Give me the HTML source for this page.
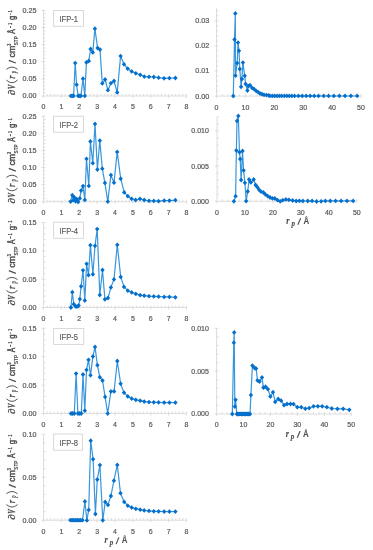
<!DOCTYPE html>
<html><head><meta charset="utf-8"><title>PSD</title>
<style>html,body{margin:0;padding:0;background:#fff;width:373px;height:550px;overflow:hidden}svg{display:block;filter:blur(0.35px)}</style></head><body>
<svg width="373" height="550" viewBox="0 0 373 550" font-family="Liberation Sans" font-size="7.80"><rect width="373" height="550" fill="#fff"/>
<g stroke="#d9d9d9" stroke-width="0.9" fill="none"><line x1="43.50" y1="10.40" x2="43.50" y2="98.00"/><line x1="41.50" y1="96.00" x2="186.50" y2="96.00"/><line x1="43.50" y1="92.58" x2="45.50" y2="92.58"/><line x1="43.50" y1="89.15" x2="45.50" y2="89.15"/><line x1="43.50" y1="85.73" x2="45.50" y2="85.73"/><line x1="43.50" y1="82.30" x2="45.50" y2="82.30"/><line x1="41.50" y1="78.88" x2="45.50" y2="78.88"/><line x1="43.50" y1="75.46" x2="45.50" y2="75.46"/><line x1="43.50" y1="72.03" x2="45.50" y2="72.03"/><line x1="43.50" y1="68.61" x2="45.50" y2="68.61"/><line x1="43.50" y1="65.18" x2="45.50" y2="65.18"/><line x1="41.50" y1="61.76" x2="45.50" y2="61.76"/><line x1="43.50" y1="58.34" x2="45.50" y2="58.34"/><line x1="43.50" y1="54.91" x2="45.50" y2="54.91"/><line x1="43.50" y1="51.49" x2="45.50" y2="51.49"/><line x1="43.50" y1="48.06" x2="45.50" y2="48.06"/><line x1="41.50" y1="44.64" x2="45.50" y2="44.64"/><line x1="43.50" y1="41.22" x2="45.50" y2="41.22"/><line x1="43.50" y1="37.79" x2="45.50" y2="37.79"/><line x1="43.50" y1="34.37" x2="45.50" y2="34.37"/><line x1="43.50" y1="30.94" x2="45.50" y2="30.94"/><line x1="41.50" y1="27.52" x2="45.50" y2="27.52"/><line x1="43.50" y1="24.10" x2="45.50" y2="24.10"/><line x1="43.50" y1="20.67" x2="45.50" y2="20.67"/><line x1="43.50" y1="17.25" x2="45.50" y2="17.25"/><line x1="43.50" y1="13.82" x2="45.50" y2="13.82"/><line x1="41.50" y1="10.40" x2="45.50" y2="10.40"/><line x1="47.08" y1="94.00" x2="47.08" y2="96.00"/><line x1="50.65" y1="94.00" x2="50.65" y2="96.00"/><line x1="54.23" y1="94.00" x2="54.23" y2="96.00"/><line x1="57.80" y1="94.00" x2="57.80" y2="96.00"/><line x1="61.38" y1="94.00" x2="61.38" y2="98.00"/><line x1="64.95" y1="94.00" x2="64.95" y2="96.00"/><line x1="68.53" y1="94.00" x2="68.53" y2="96.00"/><line x1="72.10" y1="94.00" x2="72.10" y2="96.00"/><line x1="75.68" y1="94.00" x2="75.68" y2="96.00"/><line x1="79.25" y1="94.00" x2="79.25" y2="98.00"/><line x1="82.83" y1="94.00" x2="82.83" y2="96.00"/><line x1="86.40" y1="94.00" x2="86.40" y2="96.00"/><line x1="89.97" y1="94.00" x2="89.97" y2="96.00"/><line x1="93.55" y1="94.00" x2="93.55" y2="96.00"/><line x1="97.12" y1="94.00" x2="97.12" y2="98.00"/><line x1="100.70" y1="94.00" x2="100.70" y2="96.00"/><line x1="104.28" y1="94.00" x2="104.28" y2="96.00"/><line x1="107.85" y1="94.00" x2="107.85" y2="96.00"/><line x1="111.43" y1="94.00" x2="111.43" y2="96.00"/><line x1="115.00" y1="94.00" x2="115.00" y2="98.00"/><line x1="118.58" y1="94.00" x2="118.58" y2="96.00"/><line x1="122.15" y1="94.00" x2="122.15" y2="96.00"/><line x1="125.73" y1="94.00" x2="125.73" y2="96.00"/><line x1="129.30" y1="94.00" x2="129.30" y2="96.00"/><line x1="132.88" y1="94.00" x2="132.88" y2="98.00"/><line x1="136.45" y1="94.00" x2="136.45" y2="96.00"/><line x1="140.03" y1="94.00" x2="140.03" y2="96.00"/><line x1="143.60" y1="94.00" x2="143.60" y2="96.00"/><line x1="147.18" y1="94.00" x2="147.18" y2="96.00"/><line x1="150.75" y1="94.00" x2="150.75" y2="98.00"/><line x1="154.32" y1="94.00" x2="154.32" y2="96.00"/><line x1="157.90" y1="94.00" x2="157.90" y2="96.00"/><line x1="161.48" y1="94.00" x2="161.48" y2="96.00"/><line x1="165.05" y1="94.00" x2="165.05" y2="96.00"/><line x1="168.62" y1="94.00" x2="168.62" y2="98.00"/><line x1="172.20" y1="94.00" x2="172.20" y2="96.00"/><line x1="175.78" y1="94.00" x2="175.78" y2="96.00"/><line x1="179.35" y1="94.00" x2="179.35" y2="96.00"/><line x1="182.93" y1="94.00" x2="182.93" y2="96.00"/><line x1="186.50" y1="94.00" x2="186.50" y2="98.00"/></g>
<g fill="#595959" stroke="#595959" stroke-width="0.22"><text x="36.40" y="98.42" text-anchor="end" textLength="14.00" lengthAdjust="spacingAndGlyphs">0.00</text><text x="36.40" y="81.30" text-anchor="end" textLength="14.00" lengthAdjust="spacingAndGlyphs">0.05</text><text x="36.40" y="64.18" text-anchor="end" textLength="14.00" lengthAdjust="spacingAndGlyphs">0.10</text><text x="36.40" y="47.06" text-anchor="end" textLength="14.00" lengthAdjust="spacingAndGlyphs">0.15</text><text x="36.40" y="29.94" text-anchor="end" textLength="14.00" lengthAdjust="spacingAndGlyphs">0.20</text><text x="36.40" y="12.82" text-anchor="end" textLength="14.00" lengthAdjust="spacingAndGlyphs">0.25</text><text x="43.50" y="109.45" text-anchor="middle" textLength="3.90" lengthAdjust="spacingAndGlyphs">0</text><text x="61.38" y="109.45" text-anchor="middle" textLength="3.90" lengthAdjust="spacingAndGlyphs">1</text><text x="79.25" y="109.45" text-anchor="middle" textLength="3.90" lengthAdjust="spacingAndGlyphs">2</text><text x="97.12" y="109.45" text-anchor="middle" textLength="3.90" lengthAdjust="spacingAndGlyphs">3</text><text x="115.00" y="109.45" text-anchor="middle" textLength="3.90" lengthAdjust="spacingAndGlyphs">4</text><text x="132.88" y="109.45" text-anchor="middle" textLength="3.90" lengthAdjust="spacingAndGlyphs">5</text><text x="150.75" y="109.45" text-anchor="middle" textLength="3.90" lengthAdjust="spacingAndGlyphs">6</text><text x="168.62" y="109.45" text-anchor="middle" textLength="3.90" lengthAdjust="spacingAndGlyphs">7</text><text x="186.50" y="109.45" text-anchor="middle" textLength="3.90" lengthAdjust="spacingAndGlyphs">8</text></g>
<rect x="53.60" y="10.50" width="29.90" height="15.80" fill="#fff" stroke="#d4d4d4" stroke-width="0.9"/>
<text x="68.80" y="22.10" text-anchor="middle" font-size="9.3" fill="#595959" stroke="#595959" stroke-width="0.15" textLength="18.6" lengthAdjust="spacingAndGlyphs">IFP-1</text>
<g transform="rotate(-90)" fill="#4d4d4d" stroke="#4d4d4d"><text stroke-width="0.30" x="-95.32" y="14.80" font-family="Liberation Serif" font-size="10.00" font-weight="bold" font-style="italic" textLength="5.53" lengthAdjust="spacingAndGlyphs">∂</text><text stroke-width="0.30" x="-89.34" y="14.80" font-family="Liberation Serif" font-size="10.00" font-weight="bold" font-style="italic" textLength="4.44" lengthAdjust="spacingAndGlyphs">V</text><text stroke-width="0.30" x="-78.81" y="14.80" font-family="Liberation Serif" font-size="10.00" font-style="italic" textLength="3.44" lengthAdjust="spacingAndGlyphs">r</text><text stroke-width="0.10" x="-73.31" y="16.10" font-family="Liberation Serif" font-size="7.60" font-weight="bold" font-style="italic" textLength="2.40" lengthAdjust="spacingAndGlyphs">p</text><text stroke-width="0.45" x="-57.52" y="15.10" font-family="Liberation Sans" font-size="9.50" textLength="11.75" lengthAdjust="spacingAndGlyphs">cm</text><text stroke-width="0.20" x="-45.83" y="11.00" font-family="Liberation Sans" font-size="4.90" font-weight="bold" textLength="2.01" lengthAdjust="spacingAndGlyphs">3</text><text stroke-width="0.10" x="-45.28" y="18.20" font-family="Liberation Sans" font-size="5.50" font-weight="bold" textLength="8.99" lengthAdjust="spacingAndGlyphs">STP</text><text stroke-width="0.45" x="-33.66" y="15.10" font-family="Liberation Sans" font-size="9.30" textLength="4.43" lengthAdjust="spacingAndGlyphs">Å</text><text stroke-width="0.30" x="-28.08" y="12.20" font-family="Liberation Sans" font-size="6.00" font-weight="bold" textLength="1.97" lengthAdjust="spacingAndGlyphs">-</text><text stroke-width="0.30" x="-24.85" y="12.20" font-family="Liberation Sans" font-size="6.00" font-weight="bold" textLength="1.79" lengthAdjust="spacingAndGlyphs">1</text><text stroke-width="0.45" x="-19.97" y="14.70" font-family="Liberation Sans" font-size="9.30" textLength="4.20" lengthAdjust="spacingAndGlyphs">g</text><text stroke-width="0.30" x="-14.87" y="12.20" font-family="Liberation Sans" font-size="6.00" font-weight="bold" textLength="1.05" lengthAdjust="spacingAndGlyphs">-</text><text stroke-width="0.30" x="-12.15" y="12.20" font-family="Liberation Sans" font-size="6.00" font-weight="bold" textLength="1.79" lengthAdjust="spacingAndGlyphs">1</text></g>
<path d="M6.4 80.20Q12 85.20 17.5 80.20M6.4 69.30Q12 64.90 17.5 69.30" fill="none" stroke="#4d4d4d" stroke-width="0.95"/>
<path d="M15.8 63.00L8.8 60.30" stroke="#4d4d4d" stroke-width="1.3"/>
<polyline points="70.9,95.9 72.3,95.9 73.6,95.9 75.2,63.1 76.6,84.7 78.1,95.9 79.5,95.9 80.9,95.9 83.0,78.7 84.8,95.9 86.4,62.4 88.8,61.0 90.6,49.0 92.8,52.4 94.9,28.7 97.6,48.0 100.0,49.6 102.3,83.4 105.1,79.5 107.9,90.2 110.9,83.2 114.0,81.0 117.2,92.4 120.6,56.1 124.0,64.3 127.7,68.7 131.7,71.4 135.8,73.3 140.2,74.8 144.3,76.6 149.0,76.8 153.8,77.0 158.6,77.7 164.1,78.3 169.4,78.2 175.4,78.0" fill="none" stroke="#3896dc" stroke-width="1.2" stroke-linejoin="round"/>
<path d="M70.9 93.5l2.21 2.40l-2.21 2.40l-2.21 -2.40zM72.3 93.5l2.21 2.40l-2.21 2.40l-2.21 -2.40zM73.6 93.5l2.21 2.40l-2.21 2.40l-2.21 -2.40zM75.2 60.7l2.21 2.40l-2.21 2.40l-2.21 -2.40zM76.6 82.3l2.21 2.40l-2.21 2.40l-2.21 -2.40zM78.1 93.5l2.21 2.40l-2.21 2.40l-2.21 -2.40zM79.5 93.5l2.21 2.40l-2.21 2.40l-2.21 -2.40zM80.9 93.5l2.21 2.40l-2.21 2.40l-2.21 -2.40zM83.0 76.3l2.21 2.40l-2.21 2.40l-2.21 -2.40zM84.8 93.5l2.21 2.40l-2.21 2.40l-2.21 -2.40zM86.4 60.0l2.21 2.40l-2.21 2.40l-2.21 -2.40zM88.8 58.6l2.21 2.40l-2.21 2.40l-2.21 -2.40zM90.6 46.6l2.21 2.40l-2.21 2.40l-2.21 -2.40zM92.8 50.0l2.21 2.40l-2.21 2.40l-2.21 -2.40zM94.9 26.3l2.21 2.40l-2.21 2.40l-2.21 -2.40zM97.6 45.6l2.21 2.40l-2.21 2.40l-2.21 -2.40zM100.0 47.2l2.21 2.40l-2.21 2.40l-2.21 -2.40zM102.3 81.0l2.21 2.40l-2.21 2.40l-2.21 -2.40zM105.1 77.1l2.21 2.40l-2.21 2.40l-2.21 -2.40zM107.9 87.8l2.21 2.40l-2.21 2.40l-2.21 -2.40zM110.9 80.8l2.21 2.40l-2.21 2.40l-2.21 -2.40zM114.0 78.6l2.21 2.40l-2.21 2.40l-2.21 -2.40zM117.2 90.0l2.21 2.40l-2.21 2.40l-2.21 -2.40zM120.6 53.7l2.21 2.40l-2.21 2.40l-2.21 -2.40zM124.0 61.9l2.21 2.40l-2.21 2.40l-2.21 -2.40zM127.7 66.3l2.21 2.40l-2.21 2.40l-2.21 -2.40zM131.7 69.0l2.21 2.40l-2.21 2.40l-2.21 -2.40zM135.8 70.9l2.21 2.40l-2.21 2.40l-2.21 -2.40zM140.2 72.4l2.21 2.40l-2.21 2.40l-2.21 -2.40zM144.3 74.2l2.21 2.40l-2.21 2.40l-2.21 -2.40zM149.0 74.4l2.21 2.40l-2.21 2.40l-2.21 -2.40zM153.8 74.6l2.21 2.40l-2.21 2.40l-2.21 -2.40zM158.6 75.3l2.21 2.40l-2.21 2.40l-2.21 -2.40zM164.1 75.9l2.21 2.40l-2.21 2.40l-2.21 -2.40zM169.4 75.8l2.21 2.40l-2.21 2.40l-2.21 -2.40zM175.4 75.6l2.21 2.40l-2.21 2.40l-2.21 -2.40z" fill="#0570cc"/>
<g stroke="#d9d9d9" stroke-width="0.9" fill="none"><line x1="43.50" y1="116.20" x2="43.50" y2="203.80"/><line x1="41.50" y1="201.80" x2="186.50" y2="201.80"/><line x1="43.50" y1="198.38" x2="45.50" y2="198.38"/><line x1="43.50" y1="194.95" x2="45.50" y2="194.95"/><line x1="43.50" y1="191.53" x2="45.50" y2="191.53"/><line x1="43.50" y1="188.10" x2="45.50" y2="188.10"/><line x1="41.50" y1="184.68" x2="45.50" y2="184.68"/><line x1="43.50" y1="181.26" x2="45.50" y2="181.26"/><line x1="43.50" y1="177.83" x2="45.50" y2="177.83"/><line x1="43.50" y1="174.41" x2="45.50" y2="174.41"/><line x1="43.50" y1="170.98" x2="45.50" y2="170.98"/><line x1="41.50" y1="167.56" x2="45.50" y2="167.56"/><line x1="43.50" y1="164.14" x2="45.50" y2="164.14"/><line x1="43.50" y1="160.71" x2="45.50" y2="160.71"/><line x1="43.50" y1="157.29" x2="45.50" y2="157.29"/><line x1="43.50" y1="153.86" x2="45.50" y2="153.86"/><line x1="41.50" y1="150.44" x2="45.50" y2="150.44"/><line x1="43.50" y1="147.02" x2="45.50" y2="147.02"/><line x1="43.50" y1="143.59" x2="45.50" y2="143.59"/><line x1="43.50" y1="140.17" x2="45.50" y2="140.17"/><line x1="43.50" y1="136.74" x2="45.50" y2="136.74"/><line x1="41.50" y1="133.32" x2="45.50" y2="133.32"/><line x1="43.50" y1="129.90" x2="45.50" y2="129.90"/><line x1="43.50" y1="126.47" x2="45.50" y2="126.47"/><line x1="43.50" y1="123.05" x2="45.50" y2="123.05"/><line x1="43.50" y1="119.62" x2="45.50" y2="119.62"/><line x1="41.50" y1="116.20" x2="45.50" y2="116.20"/><line x1="47.08" y1="199.80" x2="47.08" y2="201.80"/><line x1="50.65" y1="199.80" x2="50.65" y2="201.80"/><line x1="54.23" y1="199.80" x2="54.23" y2="201.80"/><line x1="57.80" y1="199.80" x2="57.80" y2="201.80"/><line x1="61.38" y1="199.80" x2="61.38" y2="203.80"/><line x1="64.95" y1="199.80" x2="64.95" y2="201.80"/><line x1="68.53" y1="199.80" x2="68.53" y2="201.80"/><line x1="72.10" y1="199.80" x2="72.10" y2="201.80"/><line x1="75.68" y1="199.80" x2="75.68" y2="201.80"/><line x1="79.25" y1="199.80" x2="79.25" y2="203.80"/><line x1="82.83" y1="199.80" x2="82.83" y2="201.80"/><line x1="86.40" y1="199.80" x2="86.40" y2="201.80"/><line x1="89.97" y1="199.80" x2="89.97" y2="201.80"/><line x1="93.55" y1="199.80" x2="93.55" y2="201.80"/><line x1="97.12" y1="199.80" x2="97.12" y2="203.80"/><line x1="100.70" y1="199.80" x2="100.70" y2="201.80"/><line x1="104.28" y1="199.80" x2="104.28" y2="201.80"/><line x1="107.85" y1="199.80" x2="107.85" y2="201.80"/><line x1="111.43" y1="199.80" x2="111.43" y2="201.80"/><line x1="115.00" y1="199.80" x2="115.00" y2="203.80"/><line x1="118.58" y1="199.80" x2="118.58" y2="201.80"/><line x1="122.15" y1="199.80" x2="122.15" y2="201.80"/><line x1="125.73" y1="199.80" x2="125.73" y2="201.80"/><line x1="129.30" y1="199.80" x2="129.30" y2="201.80"/><line x1="132.88" y1="199.80" x2="132.88" y2="203.80"/><line x1="136.45" y1="199.80" x2="136.45" y2="201.80"/><line x1="140.03" y1="199.80" x2="140.03" y2="201.80"/><line x1="143.60" y1="199.80" x2="143.60" y2="201.80"/><line x1="147.18" y1="199.80" x2="147.18" y2="201.80"/><line x1="150.75" y1="199.80" x2="150.75" y2="203.80"/><line x1="154.32" y1="199.80" x2="154.32" y2="201.80"/><line x1="157.90" y1="199.80" x2="157.90" y2="201.80"/><line x1="161.48" y1="199.80" x2="161.48" y2="201.80"/><line x1="165.05" y1="199.80" x2="165.05" y2="201.80"/><line x1="168.62" y1="199.80" x2="168.62" y2="203.80"/><line x1="172.20" y1="199.80" x2="172.20" y2="201.80"/><line x1="175.78" y1="199.80" x2="175.78" y2="201.80"/><line x1="179.35" y1="199.80" x2="179.35" y2="201.80"/><line x1="182.93" y1="199.80" x2="182.93" y2="201.80"/><line x1="186.50" y1="199.80" x2="186.50" y2="203.80"/></g>
<g fill="#595959" stroke="#595959" stroke-width="0.22"><text x="36.40" y="204.22" text-anchor="end" textLength="14.00" lengthAdjust="spacingAndGlyphs">0.00</text><text x="36.40" y="187.10" text-anchor="end" textLength="14.00" lengthAdjust="spacingAndGlyphs">0.05</text><text x="36.40" y="169.98" text-anchor="end" textLength="14.00" lengthAdjust="spacingAndGlyphs">0.10</text><text x="36.40" y="152.86" text-anchor="end" textLength="14.00" lengthAdjust="spacingAndGlyphs">0.15</text><text x="36.40" y="135.74" text-anchor="end" textLength="14.00" lengthAdjust="spacingAndGlyphs">0.20</text><text x="36.40" y="118.62" text-anchor="end" textLength="14.00" lengthAdjust="spacingAndGlyphs">0.25</text><text x="43.50" y="215.25" text-anchor="middle" textLength="3.90" lengthAdjust="spacingAndGlyphs">0</text><text x="61.38" y="215.25" text-anchor="middle" textLength="3.90" lengthAdjust="spacingAndGlyphs">1</text><text x="79.25" y="215.25" text-anchor="middle" textLength="3.90" lengthAdjust="spacingAndGlyphs">2</text><text x="97.12" y="215.25" text-anchor="middle" textLength="3.90" lengthAdjust="spacingAndGlyphs">3</text><text x="115.00" y="215.25" text-anchor="middle" textLength="3.90" lengthAdjust="spacingAndGlyphs">4</text><text x="132.88" y="215.25" text-anchor="middle" textLength="3.90" lengthAdjust="spacingAndGlyphs">5</text><text x="150.75" y="215.25" text-anchor="middle" textLength="3.90" lengthAdjust="spacingAndGlyphs">6</text><text x="168.62" y="215.25" text-anchor="middle" textLength="3.90" lengthAdjust="spacingAndGlyphs">7</text><text x="186.50" y="215.25" text-anchor="middle" textLength="3.90" lengthAdjust="spacingAndGlyphs">8</text></g>
<rect x="53.60" y="116.20" width="29.90" height="16.00" fill="#fff" stroke="#d4d4d4" stroke-width="0.9"/>
<text x="68.80" y="127.90" text-anchor="middle" font-size="9.3" fill="#595959" stroke="#595959" stroke-width="0.15" textLength="18.6" lengthAdjust="spacingAndGlyphs">IFP-2</text>
<g transform="rotate(-90)" fill="#4d4d4d" stroke="#4d4d4d"><text stroke-width="0.30" x="-203.42" y="14.80" font-family="Liberation Serif" font-size="10.00" font-weight="bold" font-style="italic" textLength="5.53" lengthAdjust="spacingAndGlyphs">∂</text><text stroke-width="0.30" x="-197.44" y="14.80" font-family="Liberation Serif" font-size="10.00" font-weight="bold" font-style="italic" textLength="4.44" lengthAdjust="spacingAndGlyphs">V</text><text stroke-width="0.30" x="-186.91" y="14.80" font-family="Liberation Serif" font-size="10.00" font-style="italic" textLength="3.44" lengthAdjust="spacingAndGlyphs">r</text><text stroke-width="0.10" x="-181.41" y="16.10" font-family="Liberation Serif" font-size="7.60" font-weight="bold" font-style="italic" textLength="2.40" lengthAdjust="spacingAndGlyphs">p</text><text stroke-width="0.45" x="-165.62" y="15.10" font-family="Liberation Sans" font-size="9.50" textLength="11.75" lengthAdjust="spacingAndGlyphs">cm</text><text stroke-width="0.20" x="-153.93" y="11.00" font-family="Liberation Sans" font-size="4.90" font-weight="bold" textLength="2.01" lengthAdjust="spacingAndGlyphs">3</text><text stroke-width="0.10" x="-153.38" y="18.20" font-family="Liberation Sans" font-size="5.50" font-weight="bold" textLength="8.99" lengthAdjust="spacingAndGlyphs">STP</text><text stroke-width="0.45" x="-141.76" y="15.10" font-family="Liberation Sans" font-size="9.30" textLength="4.43" lengthAdjust="spacingAndGlyphs">Å</text><text stroke-width="0.30" x="-136.18" y="12.20" font-family="Liberation Sans" font-size="6.00" font-weight="bold" textLength="1.97" lengthAdjust="spacingAndGlyphs">-</text><text stroke-width="0.30" x="-132.95" y="12.20" font-family="Liberation Sans" font-size="6.00" font-weight="bold" textLength="1.79" lengthAdjust="spacingAndGlyphs">1</text><text stroke-width="0.45" x="-128.07" y="14.70" font-family="Liberation Sans" font-size="9.30" textLength="4.20" lengthAdjust="spacingAndGlyphs">g</text><text stroke-width="0.30" x="-122.97" y="12.20" font-family="Liberation Sans" font-size="6.00" font-weight="bold" textLength="1.05" lengthAdjust="spacingAndGlyphs">-</text><text stroke-width="0.30" x="-120.25" y="12.20" font-family="Liberation Sans" font-size="6.00" font-weight="bold" textLength="1.79" lengthAdjust="spacingAndGlyphs">1</text></g>
<path d="M6.4 188.30Q12 193.30 17.5 188.30M6.4 177.40Q12 173.00 17.5 177.40" fill="none" stroke="#4d4d4d" stroke-width="0.95"/>
<path d="M15.8 171.10L8.8 168.40" stroke="#4d4d4d" stroke-width="1.3"/>
<polyline points="70.6,201.6 72.3,195.2 73.4,200.2 74.4,197.5 75.7,201.3 76.8,199.1 78.1,201.9 79.8,198.4 81.1,190.6 83.0,186.1 84.8,199.9 86.5,158.8 88.8,185.9 90.4,141.4 92.8,163.2 95.0,123.9 97.4,169.5 99.8,140.6 102.3,168.7 104.9,182.9 107.8,201.6 110.9,175.1 114.0,182.7 117.2,151.9 120.7,178.7 124.2,192.4 127.8,196.2 131.6,198.8 135.6,200.0 140.0,198.8 144.2,200.0 149.0,200.8 153.8,200.9 158.6,201.2 164.2,200.6 169.4,200.6 175.4,200.2" fill="none" stroke="#3896dc" stroke-width="1.2" stroke-linejoin="round"/>
<path d="M70.6 199.2l2.21 2.40l-2.21 2.40l-2.21 -2.40zM72.3 192.8l2.21 2.40l-2.21 2.40l-2.21 -2.40zM73.4 197.8l2.21 2.40l-2.21 2.40l-2.21 -2.40zM74.4 195.1l2.21 2.40l-2.21 2.40l-2.21 -2.40zM75.7 198.9l2.21 2.40l-2.21 2.40l-2.21 -2.40zM76.8 196.7l2.21 2.40l-2.21 2.40l-2.21 -2.40zM78.1 199.5l2.21 2.40l-2.21 2.40l-2.21 -2.40zM79.8 196.0l2.21 2.40l-2.21 2.40l-2.21 -2.40zM81.1 188.2l2.21 2.40l-2.21 2.40l-2.21 -2.40zM83.0 183.7l2.21 2.40l-2.21 2.40l-2.21 -2.40zM84.8 197.5l2.21 2.40l-2.21 2.40l-2.21 -2.40zM86.5 156.4l2.21 2.40l-2.21 2.40l-2.21 -2.40zM88.8 183.5l2.21 2.40l-2.21 2.40l-2.21 -2.40zM90.4 139.0l2.21 2.40l-2.21 2.40l-2.21 -2.40zM92.8 160.8l2.21 2.40l-2.21 2.40l-2.21 -2.40zM95.0 121.5l2.21 2.40l-2.21 2.40l-2.21 -2.40zM97.4 167.1l2.21 2.40l-2.21 2.40l-2.21 -2.40zM99.8 138.2l2.21 2.40l-2.21 2.40l-2.21 -2.40zM102.3 166.3l2.21 2.40l-2.21 2.40l-2.21 -2.40zM104.9 180.5l2.21 2.40l-2.21 2.40l-2.21 -2.40zM107.8 199.2l2.21 2.40l-2.21 2.40l-2.21 -2.40zM110.9 172.7l2.21 2.40l-2.21 2.40l-2.21 -2.40zM114.0 180.3l2.21 2.40l-2.21 2.40l-2.21 -2.40zM117.2 149.5l2.21 2.40l-2.21 2.40l-2.21 -2.40zM120.7 176.3l2.21 2.40l-2.21 2.40l-2.21 -2.40zM124.2 190.0l2.21 2.40l-2.21 2.40l-2.21 -2.40zM127.8 193.8l2.21 2.40l-2.21 2.40l-2.21 -2.40zM131.6 196.4l2.21 2.40l-2.21 2.40l-2.21 -2.40zM135.6 197.6l2.21 2.40l-2.21 2.40l-2.21 -2.40zM140.0 196.4l2.21 2.40l-2.21 2.40l-2.21 -2.40zM144.2 197.6l2.21 2.40l-2.21 2.40l-2.21 -2.40zM149.0 198.4l2.21 2.40l-2.21 2.40l-2.21 -2.40zM153.8 198.5l2.21 2.40l-2.21 2.40l-2.21 -2.40zM158.6 198.8l2.21 2.40l-2.21 2.40l-2.21 -2.40zM164.2 198.2l2.21 2.40l-2.21 2.40l-2.21 -2.40zM169.4 198.2l2.21 2.40l-2.21 2.40l-2.21 -2.40zM175.4 197.8l2.21 2.40l-2.21 2.40l-2.21 -2.40z" fill="#0570cc"/>
<g stroke="#d9d9d9" stroke-width="0.9" fill="none"><line x1="43.50" y1="222.50" x2="43.50" y2="309.50"/><line x1="41.50" y1="307.50" x2="186.50" y2="307.50"/><line x1="43.50" y1="301.83" x2="45.50" y2="301.83"/><line x1="43.50" y1="296.17" x2="45.50" y2="296.17"/><line x1="43.50" y1="290.50" x2="45.50" y2="290.50"/><line x1="43.50" y1="284.83" x2="45.50" y2="284.83"/><line x1="41.50" y1="279.17" x2="45.50" y2="279.17"/><line x1="43.50" y1="273.50" x2="45.50" y2="273.50"/><line x1="43.50" y1="267.83" x2="45.50" y2="267.83"/><line x1="43.50" y1="262.17" x2="45.50" y2="262.17"/><line x1="43.50" y1="256.50" x2="45.50" y2="256.50"/><line x1="41.50" y1="250.83" x2="45.50" y2="250.83"/><line x1="43.50" y1="245.17" x2="45.50" y2="245.17"/><line x1="43.50" y1="239.50" x2="45.50" y2="239.50"/><line x1="43.50" y1="233.83" x2="45.50" y2="233.83"/><line x1="43.50" y1="228.17" x2="45.50" y2="228.17"/><line x1="41.50" y1="222.50" x2="45.50" y2="222.50"/><line x1="47.08" y1="305.50" x2="47.08" y2="307.50"/><line x1="50.65" y1="305.50" x2="50.65" y2="307.50"/><line x1="54.23" y1="305.50" x2="54.23" y2="307.50"/><line x1="57.80" y1="305.50" x2="57.80" y2="307.50"/><line x1="61.38" y1="305.50" x2="61.38" y2="309.50"/><line x1="64.95" y1="305.50" x2="64.95" y2="307.50"/><line x1="68.53" y1="305.50" x2="68.53" y2="307.50"/><line x1="72.10" y1="305.50" x2="72.10" y2="307.50"/><line x1="75.68" y1="305.50" x2="75.68" y2="307.50"/><line x1="79.25" y1="305.50" x2="79.25" y2="309.50"/><line x1="82.83" y1="305.50" x2="82.83" y2="307.50"/><line x1="86.40" y1="305.50" x2="86.40" y2="307.50"/><line x1="89.97" y1="305.50" x2="89.97" y2="307.50"/><line x1="93.55" y1="305.50" x2="93.55" y2="307.50"/><line x1="97.12" y1="305.50" x2="97.12" y2="309.50"/><line x1="100.70" y1="305.50" x2="100.70" y2="307.50"/><line x1="104.28" y1="305.50" x2="104.28" y2="307.50"/><line x1="107.85" y1="305.50" x2="107.85" y2="307.50"/><line x1="111.43" y1="305.50" x2="111.43" y2="307.50"/><line x1="115.00" y1="305.50" x2="115.00" y2="309.50"/><line x1="118.58" y1="305.50" x2="118.58" y2="307.50"/><line x1="122.15" y1="305.50" x2="122.15" y2="307.50"/><line x1="125.73" y1="305.50" x2="125.73" y2="307.50"/><line x1="129.30" y1="305.50" x2="129.30" y2="307.50"/><line x1="132.88" y1="305.50" x2="132.88" y2="309.50"/><line x1="136.45" y1="305.50" x2="136.45" y2="307.50"/><line x1="140.03" y1="305.50" x2="140.03" y2="307.50"/><line x1="143.60" y1="305.50" x2="143.60" y2="307.50"/><line x1="147.18" y1="305.50" x2="147.18" y2="307.50"/><line x1="150.75" y1="305.50" x2="150.75" y2="309.50"/><line x1="154.32" y1="305.50" x2="154.32" y2="307.50"/><line x1="157.90" y1="305.50" x2="157.90" y2="307.50"/><line x1="161.48" y1="305.50" x2="161.48" y2="307.50"/><line x1="165.05" y1="305.50" x2="165.05" y2="307.50"/><line x1="168.62" y1="305.50" x2="168.62" y2="309.50"/><line x1="172.20" y1="305.50" x2="172.20" y2="307.50"/><line x1="175.78" y1="305.50" x2="175.78" y2="307.50"/><line x1="179.35" y1="305.50" x2="179.35" y2="307.50"/><line x1="182.93" y1="305.50" x2="182.93" y2="307.50"/><line x1="186.50" y1="305.50" x2="186.50" y2="309.50"/></g>
<g fill="#595959" stroke="#595959" stroke-width="0.22"><text x="36.40" y="309.92" text-anchor="end" textLength="14.00" lengthAdjust="spacingAndGlyphs">0.00</text><text x="36.40" y="281.59" text-anchor="end" textLength="14.00" lengthAdjust="spacingAndGlyphs">0.05</text><text x="36.40" y="253.25" text-anchor="end" textLength="14.00" lengthAdjust="spacingAndGlyphs">0.10</text><text x="36.40" y="224.92" text-anchor="end" textLength="14.00" lengthAdjust="spacingAndGlyphs">0.15</text><text x="43.50" y="320.95" text-anchor="middle" textLength="3.90" lengthAdjust="spacingAndGlyphs">0</text><text x="61.38" y="320.95" text-anchor="middle" textLength="3.90" lengthAdjust="spacingAndGlyphs">1</text><text x="79.25" y="320.95" text-anchor="middle" textLength="3.90" lengthAdjust="spacingAndGlyphs">2</text><text x="97.12" y="320.95" text-anchor="middle" textLength="3.90" lengthAdjust="spacingAndGlyphs">3</text><text x="115.00" y="320.95" text-anchor="middle" textLength="3.90" lengthAdjust="spacingAndGlyphs">4</text><text x="132.88" y="320.95" text-anchor="middle" textLength="3.90" lengthAdjust="spacingAndGlyphs">5</text><text x="150.75" y="320.95" text-anchor="middle" textLength="3.90" lengthAdjust="spacingAndGlyphs">6</text><text x="168.62" y="320.95" text-anchor="middle" textLength="3.90" lengthAdjust="spacingAndGlyphs">7</text><text x="186.50" y="320.95" text-anchor="middle" textLength="3.90" lengthAdjust="spacingAndGlyphs">8</text></g>
<rect x="53.60" y="222.20" width="29.90" height="16.10" fill="#fff" stroke="#d4d4d4" stroke-width="0.9"/>
<text x="68.80" y="233.95" text-anchor="middle" font-size="9.3" fill="#595959" stroke="#595959" stroke-width="0.15" textLength="18.6" lengthAdjust="spacingAndGlyphs">IFP-4</text>
<g transform="rotate(-90)" fill="#4d4d4d" stroke="#4d4d4d"><text stroke-width="0.30" x="-305.62" y="14.80" font-family="Liberation Serif" font-size="10.00" font-weight="bold" font-style="italic" textLength="5.53" lengthAdjust="spacingAndGlyphs">∂</text><text stroke-width="0.30" x="-299.64" y="14.80" font-family="Liberation Serif" font-size="10.00" font-weight="bold" font-style="italic" textLength="4.44" lengthAdjust="spacingAndGlyphs">V</text><text stroke-width="0.30" x="-289.11" y="14.80" font-family="Liberation Serif" font-size="10.00" font-style="italic" textLength="3.44" lengthAdjust="spacingAndGlyphs">r</text><text stroke-width="0.10" x="-283.61" y="16.10" font-family="Liberation Serif" font-size="7.60" font-weight="bold" font-style="italic" textLength="2.40" lengthAdjust="spacingAndGlyphs">p</text><text stroke-width="0.45" x="-267.82" y="15.10" font-family="Liberation Sans" font-size="9.50" textLength="11.75" lengthAdjust="spacingAndGlyphs">cm</text><text stroke-width="0.20" x="-256.13" y="11.00" font-family="Liberation Sans" font-size="4.90" font-weight="bold" textLength="2.01" lengthAdjust="spacingAndGlyphs">3</text><text stroke-width="0.10" x="-255.58" y="18.20" font-family="Liberation Sans" font-size="5.50" font-weight="bold" textLength="8.99" lengthAdjust="spacingAndGlyphs">STP</text><text stroke-width="0.45" x="-243.96" y="15.10" font-family="Liberation Sans" font-size="9.30" textLength="4.43" lengthAdjust="spacingAndGlyphs">Å</text><text stroke-width="0.30" x="-238.38" y="12.20" font-family="Liberation Sans" font-size="6.00" font-weight="bold" textLength="1.97" lengthAdjust="spacingAndGlyphs">-</text><text stroke-width="0.30" x="-235.15" y="12.20" font-family="Liberation Sans" font-size="6.00" font-weight="bold" textLength="1.79" lengthAdjust="spacingAndGlyphs">1</text><text stroke-width="0.45" x="-230.27" y="14.70" font-family="Liberation Sans" font-size="9.30" textLength="4.20" lengthAdjust="spacingAndGlyphs">g</text><text stroke-width="0.30" x="-225.17" y="12.20" font-family="Liberation Sans" font-size="6.00" font-weight="bold" textLength="1.05" lengthAdjust="spacingAndGlyphs">-</text><text stroke-width="0.30" x="-222.45" y="12.20" font-family="Liberation Sans" font-size="6.00" font-weight="bold" textLength="1.79" lengthAdjust="spacingAndGlyphs">1</text></g>
<path d="M6.4 290.50Q12 295.50 17.5 290.50M6.4 279.60Q12 275.20 17.5 279.60" fill="none" stroke="#4d4d4d" stroke-width="0.95"/>
<path d="M15.8 273.30L8.8 270.60" stroke="#4d4d4d" stroke-width="1.3"/>
<polyline points="70.9,307.5 72.3,292.2 73.8,304.2 75.5,306.3 77.0,306.6 78.7,305.6 79.8,299.1 81.1,286.3 83.0,270.3 84.8,300.5 86.6,263.8 88.5,275.2 90.4,245.2 92.9,274.3 95.0,245.8 97.2,229.1 99.8,295.0 102.5,270.0 104.9,299.3 108.0,298.0 110.9,287.4 114.0,279.4 117.3,244.8 120.7,276.9 124.0,286.9 127.8,290.7 131.7,292.4 135.8,293.9 140.2,295.2 144.2,295.7 149.0,296.2 153.8,296.4 158.6,296.6 164.2,296.9 169.4,296.9 175.4,297.3" fill="none" stroke="#3896dc" stroke-width="1.2" stroke-linejoin="round"/>
<path d="M70.9 305.1l2.21 2.40l-2.21 2.40l-2.21 -2.40zM72.3 289.8l2.21 2.40l-2.21 2.40l-2.21 -2.40zM73.8 301.8l2.21 2.40l-2.21 2.40l-2.21 -2.40zM75.5 303.9l2.21 2.40l-2.21 2.40l-2.21 -2.40zM77.0 304.2l2.21 2.40l-2.21 2.40l-2.21 -2.40zM78.7 303.2l2.21 2.40l-2.21 2.40l-2.21 -2.40zM79.8 296.7l2.21 2.40l-2.21 2.40l-2.21 -2.40zM81.1 283.9l2.21 2.40l-2.21 2.40l-2.21 -2.40zM83.0 267.9l2.21 2.40l-2.21 2.40l-2.21 -2.40zM84.8 298.1l2.21 2.40l-2.21 2.40l-2.21 -2.40zM86.6 261.4l2.21 2.40l-2.21 2.40l-2.21 -2.40zM88.5 272.8l2.21 2.40l-2.21 2.40l-2.21 -2.40zM90.4 242.8l2.21 2.40l-2.21 2.40l-2.21 -2.40zM92.9 271.9l2.21 2.40l-2.21 2.40l-2.21 -2.40zM95.0 243.4l2.21 2.40l-2.21 2.40l-2.21 -2.40zM97.2 226.7l2.21 2.40l-2.21 2.40l-2.21 -2.40zM99.8 292.6l2.21 2.40l-2.21 2.40l-2.21 -2.40zM102.5 267.6l2.21 2.40l-2.21 2.40l-2.21 -2.40zM104.9 296.9l2.21 2.40l-2.21 2.40l-2.21 -2.40zM108.0 295.6l2.21 2.40l-2.21 2.40l-2.21 -2.40zM110.9 285.0l2.21 2.40l-2.21 2.40l-2.21 -2.40zM114.0 277.0l2.21 2.40l-2.21 2.40l-2.21 -2.40zM117.3 242.4l2.21 2.40l-2.21 2.40l-2.21 -2.40zM120.7 274.5l2.21 2.40l-2.21 2.40l-2.21 -2.40zM124.0 284.5l2.21 2.40l-2.21 2.40l-2.21 -2.40zM127.8 288.3l2.21 2.40l-2.21 2.40l-2.21 -2.40zM131.7 290.0l2.21 2.40l-2.21 2.40l-2.21 -2.40zM135.8 291.5l2.21 2.40l-2.21 2.40l-2.21 -2.40zM140.2 292.8l2.21 2.40l-2.21 2.40l-2.21 -2.40zM144.2 293.3l2.21 2.40l-2.21 2.40l-2.21 -2.40zM149.0 293.8l2.21 2.40l-2.21 2.40l-2.21 -2.40zM153.8 294.0l2.21 2.40l-2.21 2.40l-2.21 -2.40zM158.6 294.2l2.21 2.40l-2.21 2.40l-2.21 -2.40zM164.2 294.5l2.21 2.40l-2.21 2.40l-2.21 -2.40zM169.4 294.5l2.21 2.40l-2.21 2.40l-2.21 -2.40zM175.4 294.9l2.21 2.40l-2.21 2.40l-2.21 -2.40z" fill="#0570cc"/>
<g stroke="#d9d9d9" stroke-width="0.9" fill="none"><line x1="43.50" y1="328.30" x2="43.50" y2="415.50"/><line x1="41.50" y1="413.50" x2="186.50" y2="413.50"/><line x1="43.50" y1="407.82" x2="45.50" y2="407.82"/><line x1="43.50" y1="402.14" x2="45.50" y2="402.14"/><line x1="43.50" y1="396.46" x2="45.50" y2="396.46"/><line x1="43.50" y1="390.78" x2="45.50" y2="390.78"/><line x1="41.50" y1="385.10" x2="45.50" y2="385.10"/><line x1="43.50" y1="379.42" x2="45.50" y2="379.42"/><line x1="43.50" y1="373.74" x2="45.50" y2="373.74"/><line x1="43.50" y1="368.06" x2="45.50" y2="368.06"/><line x1="43.50" y1="362.38" x2="45.50" y2="362.38"/><line x1="41.50" y1="356.70" x2="45.50" y2="356.70"/><line x1="43.50" y1="351.02" x2="45.50" y2="351.02"/><line x1="43.50" y1="345.34" x2="45.50" y2="345.34"/><line x1="43.50" y1="339.66" x2="45.50" y2="339.66"/><line x1="43.50" y1="333.98" x2="45.50" y2="333.98"/><line x1="41.50" y1="328.30" x2="45.50" y2="328.30"/><line x1="47.08" y1="411.50" x2="47.08" y2="413.50"/><line x1="50.65" y1="411.50" x2="50.65" y2="413.50"/><line x1="54.23" y1="411.50" x2="54.23" y2="413.50"/><line x1="57.80" y1="411.50" x2="57.80" y2="413.50"/><line x1="61.38" y1="411.50" x2="61.38" y2="415.50"/><line x1="64.95" y1="411.50" x2="64.95" y2="413.50"/><line x1="68.53" y1="411.50" x2="68.53" y2="413.50"/><line x1="72.10" y1="411.50" x2="72.10" y2="413.50"/><line x1="75.68" y1="411.50" x2="75.68" y2="413.50"/><line x1="79.25" y1="411.50" x2="79.25" y2="415.50"/><line x1="82.83" y1="411.50" x2="82.83" y2="413.50"/><line x1="86.40" y1="411.50" x2="86.40" y2="413.50"/><line x1="89.97" y1="411.50" x2="89.97" y2="413.50"/><line x1="93.55" y1="411.50" x2="93.55" y2="413.50"/><line x1="97.12" y1="411.50" x2="97.12" y2="415.50"/><line x1="100.70" y1="411.50" x2="100.70" y2="413.50"/><line x1="104.28" y1="411.50" x2="104.28" y2="413.50"/><line x1="107.85" y1="411.50" x2="107.85" y2="413.50"/><line x1="111.43" y1="411.50" x2="111.43" y2="413.50"/><line x1="115.00" y1="411.50" x2="115.00" y2="415.50"/><line x1="118.58" y1="411.50" x2="118.58" y2="413.50"/><line x1="122.15" y1="411.50" x2="122.15" y2="413.50"/><line x1="125.73" y1="411.50" x2="125.73" y2="413.50"/><line x1="129.30" y1="411.50" x2="129.30" y2="413.50"/><line x1="132.88" y1="411.50" x2="132.88" y2="415.50"/><line x1="136.45" y1="411.50" x2="136.45" y2="413.50"/><line x1="140.03" y1="411.50" x2="140.03" y2="413.50"/><line x1="143.60" y1="411.50" x2="143.60" y2="413.50"/><line x1="147.18" y1="411.50" x2="147.18" y2="413.50"/><line x1="150.75" y1="411.50" x2="150.75" y2="415.50"/><line x1="154.32" y1="411.50" x2="154.32" y2="413.50"/><line x1="157.90" y1="411.50" x2="157.90" y2="413.50"/><line x1="161.48" y1="411.50" x2="161.48" y2="413.50"/><line x1="165.05" y1="411.50" x2="165.05" y2="413.50"/><line x1="168.62" y1="411.50" x2="168.62" y2="415.50"/><line x1="172.20" y1="411.50" x2="172.20" y2="413.50"/><line x1="175.78" y1="411.50" x2="175.78" y2="413.50"/><line x1="179.35" y1="411.50" x2="179.35" y2="413.50"/><line x1="182.93" y1="411.50" x2="182.93" y2="413.50"/><line x1="186.50" y1="411.50" x2="186.50" y2="415.50"/></g>
<g fill="#595959" stroke="#595959" stroke-width="0.22"><text x="36.40" y="415.92" text-anchor="end" textLength="14.00" lengthAdjust="spacingAndGlyphs">0.00</text><text x="36.40" y="387.52" text-anchor="end" textLength="14.00" lengthAdjust="spacingAndGlyphs">0.05</text><text x="36.40" y="359.12" text-anchor="end" textLength="14.00" lengthAdjust="spacingAndGlyphs">0.10</text><text x="36.40" y="330.72" text-anchor="end" textLength="14.00" lengthAdjust="spacingAndGlyphs">0.15</text><text x="43.50" y="426.95" text-anchor="middle" textLength="3.90" lengthAdjust="spacingAndGlyphs">0</text><text x="61.38" y="426.95" text-anchor="middle" textLength="3.90" lengthAdjust="spacingAndGlyphs">1</text><text x="79.25" y="426.95" text-anchor="middle" textLength="3.90" lengthAdjust="spacingAndGlyphs">2</text><text x="97.12" y="426.95" text-anchor="middle" textLength="3.90" lengthAdjust="spacingAndGlyphs">3</text><text x="115.00" y="426.95" text-anchor="middle" textLength="3.90" lengthAdjust="spacingAndGlyphs">4</text><text x="132.88" y="426.95" text-anchor="middle" textLength="3.90" lengthAdjust="spacingAndGlyphs">5</text><text x="150.75" y="426.95" text-anchor="middle" textLength="3.90" lengthAdjust="spacingAndGlyphs">6</text><text x="168.62" y="426.95" text-anchor="middle" textLength="3.90" lengthAdjust="spacingAndGlyphs">7</text><text x="186.50" y="426.95" text-anchor="middle" textLength="3.90" lengthAdjust="spacingAndGlyphs">8</text></g>
<rect x="53.60" y="328.40" width="30.20" height="16.00" fill="#fff" stroke="#d4d4d4" stroke-width="0.9"/>
<text x="68.80" y="340.10" text-anchor="middle" font-size="9.3" fill="#595959" stroke="#595959" stroke-width="0.15" textLength="18.6" lengthAdjust="spacingAndGlyphs">IFP-5</text>
<g transform="rotate(-90)" fill="#4d4d4d" stroke="#4d4d4d"><text stroke-width="0.30" x="-414.02" y="14.80" font-family="Liberation Serif" font-size="10.00" font-weight="bold" font-style="italic" textLength="5.53" lengthAdjust="spacingAndGlyphs">∂</text><text stroke-width="0.30" x="-408.04" y="14.80" font-family="Liberation Serif" font-size="10.00" font-weight="bold" font-style="italic" textLength="4.44" lengthAdjust="spacingAndGlyphs">V</text><text stroke-width="0.30" x="-397.51" y="14.80" font-family="Liberation Serif" font-size="10.00" font-style="italic" textLength="3.44" lengthAdjust="spacingAndGlyphs">r</text><text stroke-width="0.10" x="-392.01" y="16.10" font-family="Liberation Serif" font-size="7.60" font-weight="bold" font-style="italic" textLength="2.40" lengthAdjust="spacingAndGlyphs">p</text><text stroke-width="0.45" x="-376.22" y="15.10" font-family="Liberation Sans" font-size="9.50" textLength="11.75" lengthAdjust="spacingAndGlyphs">cm</text><text stroke-width="0.20" x="-364.53" y="11.00" font-family="Liberation Sans" font-size="4.90" font-weight="bold" textLength="2.01" lengthAdjust="spacingAndGlyphs">3</text><text stroke-width="0.10" x="-363.98" y="18.20" font-family="Liberation Sans" font-size="5.50" font-weight="bold" textLength="8.99" lengthAdjust="spacingAndGlyphs">STP</text><text stroke-width="0.45" x="-352.36" y="15.10" font-family="Liberation Sans" font-size="9.30" textLength="4.43" lengthAdjust="spacingAndGlyphs">Å</text><text stroke-width="0.30" x="-346.78" y="12.20" font-family="Liberation Sans" font-size="6.00" font-weight="bold" textLength="1.97" lengthAdjust="spacingAndGlyphs">-</text><text stroke-width="0.30" x="-343.55" y="12.20" font-family="Liberation Sans" font-size="6.00" font-weight="bold" textLength="1.79" lengthAdjust="spacingAndGlyphs">1</text><text stroke-width="0.45" x="-338.67" y="14.70" font-family="Liberation Sans" font-size="9.30" textLength="4.20" lengthAdjust="spacingAndGlyphs">g</text><text stroke-width="0.30" x="-333.57" y="12.20" font-family="Liberation Sans" font-size="6.00" font-weight="bold" textLength="1.05" lengthAdjust="spacingAndGlyphs">-</text><text stroke-width="0.30" x="-330.85" y="12.20" font-family="Liberation Sans" font-size="6.00" font-weight="bold" textLength="1.79" lengthAdjust="spacingAndGlyphs">1</text></g>
<path d="M6.4 398.90Q12 403.90 17.5 398.90M6.4 388.00Q12 383.60 17.5 388.00" fill="none" stroke="#4d4d4d" stroke-width="0.95"/>
<path d="M15.8 381.70L8.8 379.00" stroke="#4d4d4d" stroke-width="1.3"/>
<polyline points="71.0,413.5 72.6,413.5 74.3,413.5 76.1,373.6 77.9,413.5 79.7,413.5 81.3,413.5 83.0,374.5 84.8,410.7 86.5,369.9 88.5,359.8 90.5,375.3 92.9,356.4 95.0,346.9 97.4,365.2 99.8,377.2 102.5,380.5 105.1,396.9 107.7,413.6 110.9,391.4 114.1,391.4 117.3,361.0 120.6,383.7 124.0,392.7 127.8,396.4 131.7,398.6 135.8,399.8 140.2,400.7 144.2,401.6 149.0,402.1 153.8,402.3 158.6,402.4 164.2,402.6 169.4,402.6 175.4,402.6" fill="none" stroke="#3896dc" stroke-width="1.2" stroke-linejoin="round"/>
<path d="M71.0 411.1l2.21 2.40l-2.21 2.40l-2.21 -2.40zM72.6 411.1l2.21 2.40l-2.21 2.40l-2.21 -2.40zM74.3 411.1l2.21 2.40l-2.21 2.40l-2.21 -2.40zM76.1 371.2l2.21 2.40l-2.21 2.40l-2.21 -2.40zM77.9 411.1l2.21 2.40l-2.21 2.40l-2.21 -2.40zM79.7 411.1l2.21 2.40l-2.21 2.40l-2.21 -2.40zM81.3 411.1l2.21 2.40l-2.21 2.40l-2.21 -2.40zM83.0 372.1l2.21 2.40l-2.21 2.40l-2.21 -2.40zM84.8 408.3l2.21 2.40l-2.21 2.40l-2.21 -2.40zM86.5 367.5l2.21 2.40l-2.21 2.40l-2.21 -2.40zM88.5 357.4l2.21 2.40l-2.21 2.40l-2.21 -2.40zM90.5 372.9l2.21 2.40l-2.21 2.40l-2.21 -2.40zM92.9 354.0l2.21 2.40l-2.21 2.40l-2.21 -2.40zM95.0 344.5l2.21 2.40l-2.21 2.40l-2.21 -2.40zM97.4 362.8l2.21 2.40l-2.21 2.40l-2.21 -2.40zM99.8 374.8l2.21 2.40l-2.21 2.40l-2.21 -2.40zM102.5 378.1l2.21 2.40l-2.21 2.40l-2.21 -2.40zM105.1 394.5l2.21 2.40l-2.21 2.40l-2.21 -2.40zM107.7 411.2l2.21 2.40l-2.21 2.40l-2.21 -2.40zM110.9 389.0l2.21 2.40l-2.21 2.40l-2.21 -2.40zM114.1 389.0l2.21 2.40l-2.21 2.40l-2.21 -2.40zM117.3 358.6l2.21 2.40l-2.21 2.40l-2.21 -2.40zM120.6 381.3l2.21 2.40l-2.21 2.40l-2.21 -2.40zM124.0 390.3l2.21 2.40l-2.21 2.40l-2.21 -2.40zM127.8 394.0l2.21 2.40l-2.21 2.40l-2.21 -2.40zM131.7 396.2l2.21 2.40l-2.21 2.40l-2.21 -2.40zM135.8 397.4l2.21 2.40l-2.21 2.40l-2.21 -2.40zM140.2 398.3l2.21 2.40l-2.21 2.40l-2.21 -2.40zM144.2 399.2l2.21 2.40l-2.21 2.40l-2.21 -2.40zM149.0 399.7l2.21 2.40l-2.21 2.40l-2.21 -2.40zM153.8 399.9l2.21 2.40l-2.21 2.40l-2.21 -2.40zM158.6 400.0l2.21 2.40l-2.21 2.40l-2.21 -2.40zM164.2 400.2l2.21 2.40l-2.21 2.40l-2.21 -2.40zM169.4 400.2l2.21 2.40l-2.21 2.40l-2.21 -2.40zM175.4 400.2l2.21 2.40l-2.21 2.40l-2.21 -2.40z" fill="#0570cc"/>
<g stroke="#d9d9d9" stroke-width="0.9" fill="none"><line x1="43.50" y1="434.30" x2="43.50" y2="522.20"/><line x1="41.50" y1="520.20" x2="186.50" y2="520.20"/><line x1="43.50" y1="511.61" x2="45.50" y2="511.61"/><line x1="43.50" y1="503.02" x2="45.50" y2="503.02"/><line x1="43.50" y1="494.43" x2="45.50" y2="494.43"/><line x1="43.50" y1="485.84" x2="45.50" y2="485.84"/><line x1="41.50" y1="477.25" x2="45.50" y2="477.25"/><line x1="43.50" y1="468.66" x2="45.50" y2="468.66"/><line x1="43.50" y1="460.07" x2="45.50" y2="460.07"/><line x1="43.50" y1="451.48" x2="45.50" y2="451.48"/><line x1="43.50" y1="442.89" x2="45.50" y2="442.89"/><line x1="41.50" y1="434.30" x2="45.50" y2="434.30"/><line x1="47.08" y1="518.20" x2="47.08" y2="520.20"/><line x1="50.65" y1="518.20" x2="50.65" y2="520.20"/><line x1="54.23" y1="518.20" x2="54.23" y2="520.20"/><line x1="57.80" y1="518.20" x2="57.80" y2="520.20"/><line x1="61.38" y1="518.20" x2="61.38" y2="522.20"/><line x1="64.95" y1="518.20" x2="64.95" y2="520.20"/><line x1="68.53" y1="518.20" x2="68.53" y2="520.20"/><line x1="72.10" y1="518.20" x2="72.10" y2="520.20"/><line x1="75.68" y1="518.20" x2="75.68" y2="520.20"/><line x1="79.25" y1="518.20" x2="79.25" y2="522.20"/><line x1="82.83" y1="518.20" x2="82.83" y2="520.20"/><line x1="86.40" y1="518.20" x2="86.40" y2="520.20"/><line x1="89.97" y1="518.20" x2="89.97" y2="520.20"/><line x1="93.55" y1="518.20" x2="93.55" y2="520.20"/><line x1="97.12" y1="518.20" x2="97.12" y2="522.20"/><line x1="100.70" y1="518.20" x2="100.70" y2="520.20"/><line x1="104.28" y1="518.20" x2="104.28" y2="520.20"/><line x1="107.85" y1="518.20" x2="107.85" y2="520.20"/><line x1="111.43" y1="518.20" x2="111.43" y2="520.20"/><line x1="115.00" y1="518.20" x2="115.00" y2="522.20"/><line x1="118.58" y1="518.20" x2="118.58" y2="520.20"/><line x1="122.15" y1="518.20" x2="122.15" y2="520.20"/><line x1="125.73" y1="518.20" x2="125.73" y2="520.20"/><line x1="129.30" y1="518.20" x2="129.30" y2="520.20"/><line x1="132.88" y1="518.20" x2="132.88" y2="522.20"/><line x1="136.45" y1="518.20" x2="136.45" y2="520.20"/><line x1="140.03" y1="518.20" x2="140.03" y2="520.20"/><line x1="143.60" y1="518.20" x2="143.60" y2="520.20"/><line x1="147.18" y1="518.20" x2="147.18" y2="520.20"/><line x1="150.75" y1="518.20" x2="150.75" y2="522.20"/><line x1="154.32" y1="518.20" x2="154.32" y2="520.20"/><line x1="157.90" y1="518.20" x2="157.90" y2="520.20"/><line x1="161.48" y1="518.20" x2="161.48" y2="520.20"/><line x1="165.05" y1="518.20" x2="165.05" y2="520.20"/><line x1="168.62" y1="518.20" x2="168.62" y2="522.20"/><line x1="172.20" y1="518.20" x2="172.20" y2="520.20"/><line x1="175.78" y1="518.20" x2="175.78" y2="520.20"/><line x1="179.35" y1="518.20" x2="179.35" y2="520.20"/><line x1="182.93" y1="518.20" x2="182.93" y2="520.20"/><line x1="186.50" y1="518.20" x2="186.50" y2="522.20"/></g>
<g fill="#595959" stroke="#595959" stroke-width="0.22"><text x="36.40" y="522.62" text-anchor="end" textLength="14.00" lengthAdjust="spacingAndGlyphs">0.00</text><text x="36.40" y="479.67" text-anchor="end" textLength="14.00" lengthAdjust="spacingAndGlyphs">0.05</text><text x="36.40" y="436.72" text-anchor="end" textLength="14.00" lengthAdjust="spacingAndGlyphs">0.10</text><text x="43.50" y="533.65" text-anchor="middle" textLength="3.90" lengthAdjust="spacingAndGlyphs">0</text><text x="61.38" y="533.65" text-anchor="middle" textLength="3.90" lengthAdjust="spacingAndGlyphs">1</text><text x="79.25" y="533.65" text-anchor="middle" textLength="3.90" lengthAdjust="spacingAndGlyphs">2</text><text x="97.12" y="533.65" text-anchor="middle" textLength="3.90" lengthAdjust="spacingAndGlyphs">3</text><text x="115.00" y="533.65" text-anchor="middle" textLength="3.90" lengthAdjust="spacingAndGlyphs">4</text><text x="132.88" y="533.65" text-anchor="middle" textLength="3.90" lengthAdjust="spacingAndGlyphs">5</text><text x="150.75" y="533.65" text-anchor="middle" textLength="3.90" lengthAdjust="spacingAndGlyphs">6</text><text x="168.62" y="533.65" text-anchor="middle" textLength="3.90" lengthAdjust="spacingAndGlyphs">7</text><text x="186.50" y="533.65" text-anchor="middle" textLength="3.90" lengthAdjust="spacingAndGlyphs">8</text></g>
<rect x="53.60" y="434.00" width="28.90" height="16.20" fill="#fff" stroke="#d4d4d4" stroke-width="0.9"/>
<text x="68.80" y="445.80" text-anchor="middle" font-size="9.3" fill="#595959" stroke="#595959" stroke-width="0.15" textLength="18.6" lengthAdjust="spacingAndGlyphs">IFP-8</text>
<g transform="rotate(-90)" fill="#4d4d4d" stroke="#4d4d4d"><text stroke-width="0.30" x="-519.72" y="14.80" font-family="Liberation Serif" font-size="10.00" font-weight="bold" font-style="italic" textLength="5.53" lengthAdjust="spacingAndGlyphs">∂</text><text stroke-width="0.30" x="-513.74" y="14.80" font-family="Liberation Serif" font-size="10.00" font-weight="bold" font-style="italic" textLength="4.44" lengthAdjust="spacingAndGlyphs">V</text><text stroke-width="0.30" x="-503.21" y="14.80" font-family="Liberation Serif" font-size="10.00" font-style="italic" textLength="3.44" lengthAdjust="spacingAndGlyphs">r</text><text stroke-width="0.10" x="-497.71" y="16.10" font-family="Liberation Serif" font-size="7.60" font-weight="bold" font-style="italic" textLength="2.40" lengthAdjust="spacingAndGlyphs">p</text><text stroke-width="0.45" x="-481.92" y="15.10" font-family="Liberation Sans" font-size="9.50" textLength="11.75" lengthAdjust="spacingAndGlyphs">cm</text><text stroke-width="0.20" x="-470.23" y="11.00" font-family="Liberation Sans" font-size="4.90" font-weight="bold" textLength="2.01" lengthAdjust="spacingAndGlyphs">3</text><text stroke-width="0.10" x="-469.68" y="18.20" font-family="Liberation Sans" font-size="5.50" font-weight="bold" textLength="8.99" lengthAdjust="spacingAndGlyphs">STP</text><text stroke-width="0.45" x="-458.06" y="15.10" font-family="Liberation Sans" font-size="9.30" textLength="4.43" lengthAdjust="spacingAndGlyphs">Å</text><text stroke-width="0.30" x="-452.48" y="12.20" font-family="Liberation Sans" font-size="6.00" font-weight="bold" textLength="1.97" lengthAdjust="spacingAndGlyphs">-</text><text stroke-width="0.30" x="-449.25" y="12.20" font-family="Liberation Sans" font-size="6.00" font-weight="bold" textLength="1.79" lengthAdjust="spacingAndGlyphs">1</text><text stroke-width="0.45" x="-444.37" y="14.70" font-family="Liberation Sans" font-size="9.30" textLength="4.20" lengthAdjust="spacingAndGlyphs">g</text><text stroke-width="0.30" x="-439.27" y="12.20" font-family="Liberation Sans" font-size="6.00" font-weight="bold" textLength="1.05" lengthAdjust="spacingAndGlyphs">-</text><text stroke-width="0.30" x="-436.55" y="12.20" font-family="Liberation Sans" font-size="6.00" font-weight="bold" textLength="1.79" lengthAdjust="spacingAndGlyphs">1</text></g>
<path d="M6.4 504.60Q12 509.60 17.5 504.60M6.4 493.70Q12 489.30 17.5 493.70" fill="none" stroke="#4d4d4d" stroke-width="0.95"/>
<path d="M15.8 487.40L8.8 484.70" stroke="#4d4d4d" stroke-width="1.3"/>
<polyline points="70.4,520.2 72.1,520.2 73.8,520.2 75.5,520.2 77.2,520.2 78.9,520.2 80.6,520.2 82.5,520.2 84.9,501.4 86.9,520.4 88.7,509.9 90.7,440.7 93.1,459.2 95.4,514.0 97.3,479.5 99.9,465.1 102.8,520.3 105.2,501.9 108.0,504.9 110.9,496.0 113.9,480.7 117.3,464.9 120.5,493.2 124.2,501.9 127.8,505.7 131.7,507.6 135.8,508.8 140.2,509.7 144.2,510.4 149.0,510.9 153.8,511.3 158.6,511.4 164.2,511.6 169.4,511.6 175.4,511.6" fill="none" stroke="#3896dc" stroke-width="1.2" stroke-linejoin="round"/>
<path d="M70.4 517.8l2.21 2.40l-2.21 2.40l-2.21 -2.40zM72.1 517.8l2.21 2.40l-2.21 2.40l-2.21 -2.40zM73.8 517.8l2.21 2.40l-2.21 2.40l-2.21 -2.40zM75.5 517.8l2.21 2.40l-2.21 2.40l-2.21 -2.40zM77.2 517.8l2.21 2.40l-2.21 2.40l-2.21 -2.40zM78.9 517.8l2.21 2.40l-2.21 2.40l-2.21 -2.40zM80.6 517.8l2.21 2.40l-2.21 2.40l-2.21 -2.40zM82.5 517.8l2.21 2.40l-2.21 2.40l-2.21 -2.40zM84.9 499.0l2.21 2.40l-2.21 2.40l-2.21 -2.40zM86.9 518.0l2.21 2.40l-2.21 2.40l-2.21 -2.40zM88.7 507.5l2.21 2.40l-2.21 2.40l-2.21 -2.40zM90.7 438.3l2.21 2.40l-2.21 2.40l-2.21 -2.40zM93.1 456.8l2.21 2.40l-2.21 2.40l-2.21 -2.40zM95.4 511.6l2.21 2.40l-2.21 2.40l-2.21 -2.40zM97.3 477.1l2.21 2.40l-2.21 2.40l-2.21 -2.40zM99.9 462.7l2.21 2.40l-2.21 2.40l-2.21 -2.40zM102.8 517.9l2.21 2.40l-2.21 2.40l-2.21 -2.40zM105.2 499.5l2.21 2.40l-2.21 2.40l-2.21 -2.40zM108.0 502.5l2.21 2.40l-2.21 2.40l-2.21 -2.40zM110.9 493.6l2.21 2.40l-2.21 2.40l-2.21 -2.40zM113.9 478.3l2.21 2.40l-2.21 2.40l-2.21 -2.40zM117.3 462.5l2.21 2.40l-2.21 2.40l-2.21 -2.40zM120.5 490.8l2.21 2.40l-2.21 2.40l-2.21 -2.40zM124.2 499.5l2.21 2.40l-2.21 2.40l-2.21 -2.40zM127.8 503.3l2.21 2.40l-2.21 2.40l-2.21 -2.40zM131.7 505.2l2.21 2.40l-2.21 2.40l-2.21 -2.40zM135.8 506.4l2.21 2.40l-2.21 2.40l-2.21 -2.40zM140.2 507.3l2.21 2.40l-2.21 2.40l-2.21 -2.40zM144.2 508.0l2.21 2.40l-2.21 2.40l-2.21 -2.40zM149.0 508.5l2.21 2.40l-2.21 2.40l-2.21 -2.40zM153.8 508.9l2.21 2.40l-2.21 2.40l-2.21 -2.40zM158.6 509.0l2.21 2.40l-2.21 2.40l-2.21 -2.40zM164.2 509.2l2.21 2.40l-2.21 2.40l-2.21 -2.40zM169.4 509.2l2.21 2.40l-2.21 2.40l-2.21 -2.40zM175.4 509.2l2.21 2.40l-2.21 2.40l-2.21 -2.40z" fill="#0570cc"/>
<g stroke="#d9d9d9" stroke-width="0.9" fill="none"><line x1="216.50" y1="8.30" x2="216.50" y2="98.10"/><line x1="214.50" y1="96.10" x2="361.00" y2="96.10"/><line x1="216.50" y1="91.08" x2="218.50" y2="91.08"/><line x1="216.50" y1="86.07" x2="218.50" y2="86.07"/><line x1="216.50" y1="81.05" x2="218.50" y2="81.05"/><line x1="216.50" y1="76.03" x2="218.50" y2="76.03"/><line x1="214.50" y1="71.01" x2="218.50" y2="71.01"/><line x1="216.50" y1="66.00" x2="218.50" y2="66.00"/><line x1="216.50" y1="60.98" x2="218.50" y2="60.98"/><line x1="216.50" y1="55.96" x2="218.50" y2="55.96"/><line x1="216.50" y1="50.95" x2="218.50" y2="50.95"/><line x1="214.50" y1="45.93" x2="218.50" y2="45.93"/><line x1="216.50" y1="40.91" x2="218.50" y2="40.91"/><line x1="216.50" y1="35.89" x2="218.50" y2="35.89"/><line x1="216.50" y1="30.88" x2="218.50" y2="30.88"/><line x1="216.50" y1="25.86" x2="218.50" y2="25.86"/><line x1="214.50" y1="20.84" x2="218.50" y2="20.84"/><line x1="216.50" y1="15.83" x2="218.50" y2="15.83"/><line x1="216.50" y1="10.81" x2="218.50" y2="10.81"/><line x1="222.28" y1="94.10" x2="222.28" y2="96.10"/><line x1="228.06" y1="94.10" x2="228.06" y2="96.10"/><line x1="233.84" y1="94.10" x2="233.84" y2="96.10"/><line x1="239.62" y1="94.10" x2="239.62" y2="96.10"/><line x1="245.40" y1="94.10" x2="245.40" y2="98.10"/><line x1="251.18" y1="94.10" x2="251.18" y2="96.10"/><line x1="256.96" y1="94.10" x2="256.96" y2="96.10"/><line x1="262.74" y1="94.10" x2="262.74" y2="96.10"/><line x1="268.52" y1="94.10" x2="268.52" y2="96.10"/><line x1="274.30" y1="94.10" x2="274.30" y2="98.10"/><line x1="280.08" y1="94.10" x2="280.08" y2="96.10"/><line x1="285.86" y1="94.10" x2="285.86" y2="96.10"/><line x1="291.64" y1="94.10" x2="291.64" y2="96.10"/><line x1="297.42" y1="94.10" x2="297.42" y2="96.10"/><line x1="303.20" y1="94.10" x2="303.20" y2="98.10"/><line x1="308.98" y1="94.10" x2="308.98" y2="96.10"/><line x1="314.76" y1="94.10" x2="314.76" y2="96.10"/><line x1="320.54" y1="94.10" x2="320.54" y2="96.10"/><line x1="326.32" y1="94.10" x2="326.32" y2="96.10"/><line x1="332.10" y1="94.10" x2="332.10" y2="98.10"/><line x1="337.88" y1="94.10" x2="337.88" y2="96.10"/><line x1="343.66" y1="94.10" x2="343.66" y2="96.10"/><line x1="349.44" y1="94.10" x2="349.44" y2="96.10"/><line x1="355.22" y1="94.10" x2="355.22" y2="96.10"/><line x1="361.00" y1="94.10" x2="361.00" y2="98.10"/></g>
<g fill="#595959" stroke="#595959" stroke-width="0.22"><text x="209.40" y="98.52" text-anchor="end" textLength="14.20" lengthAdjust="spacingAndGlyphs">0.00</text><text x="209.40" y="73.43" text-anchor="end" textLength="14.20" lengthAdjust="spacingAndGlyphs">0.01</text><text x="209.40" y="48.35" text-anchor="end" textLength="14.20" lengthAdjust="spacingAndGlyphs">0.02</text><text x="209.40" y="23.26" text-anchor="end" textLength="14.20" lengthAdjust="spacingAndGlyphs">0.03</text><text x="216.50" y="109.55" text-anchor="middle" textLength="3.90" lengthAdjust="spacingAndGlyphs">0</text><text x="245.40" y="109.55" text-anchor="middle" textLength="7.81" lengthAdjust="spacingAndGlyphs">10</text><text x="274.30" y="109.55" text-anchor="middle" textLength="7.81" lengthAdjust="spacingAndGlyphs">20</text><text x="303.20" y="109.55" text-anchor="middle" textLength="7.81" lengthAdjust="spacingAndGlyphs">30</text><text x="332.10" y="109.55" text-anchor="middle" textLength="7.81" lengthAdjust="spacingAndGlyphs">40</text><text x="361.00" y="109.55" text-anchor="middle" textLength="7.81" lengthAdjust="spacingAndGlyphs">50</text></g>
<polyline points="233.3,96.0 234.5,39.5 235.3,13.4 235.5,75.7 237.2,63.1 238.0,42.6 239.0,50.8 239.8,69.0 241.1,86.8 241.9,78.9 242.9,62.6 244.7,75.8 245.6,83.9 247.4,90.6 248.3,86.1 250.0,85.2 252.1,87.9 254.1,89.2 256.1,90.8 258.1,92.2 260.1,93.5 262.1,94.2 264.1,94.9 266.6,95.1 268.8,95.4 270.0,96.0 272.3,96.0 274.7,96.0 277.0,96.0 279.4,96.0 281.7,96.0 284.3,96.0 286.9,96.0 289.2,96.0 291.8,96.0 294.6,96.0 298.5,96.0 302.2,96.0 306.2,96.0 310.2,96.0 314.2,96.0 318.5,96.0 323.7,96.0 328.6,96.0 333.9,96.0 339.4,96.0 345.0,96.0 350.9,96.0 357.2,96.0" fill="none" stroke="#3896dc" stroke-width="1.2" stroke-linejoin="round"/>
<path d="M233.3 93.6l2.21 2.40l-2.21 2.40l-2.21 -2.40zM234.5 37.1l2.21 2.40l-2.21 2.40l-2.21 -2.40zM235.3 11.0l2.21 2.40l-2.21 2.40l-2.21 -2.40zM235.5 73.3l2.21 2.40l-2.21 2.40l-2.21 -2.40zM237.2 60.7l2.21 2.40l-2.21 2.40l-2.21 -2.40zM238.0 40.2l2.21 2.40l-2.21 2.40l-2.21 -2.40zM239.0 48.4l2.21 2.40l-2.21 2.40l-2.21 -2.40zM239.8 66.6l2.21 2.40l-2.21 2.40l-2.21 -2.40zM241.1 84.4l2.21 2.40l-2.21 2.40l-2.21 -2.40zM241.9 76.5l2.21 2.40l-2.21 2.40l-2.21 -2.40zM242.9 60.2l2.21 2.40l-2.21 2.40l-2.21 -2.40zM244.7 73.4l2.21 2.40l-2.21 2.40l-2.21 -2.40zM245.6 81.5l2.21 2.40l-2.21 2.40l-2.21 -2.40zM247.4 88.2l2.21 2.40l-2.21 2.40l-2.21 -2.40zM248.3 83.7l2.21 2.40l-2.21 2.40l-2.21 -2.40zM250.0 82.8l2.21 2.40l-2.21 2.40l-2.21 -2.40zM252.1 85.5l2.21 2.40l-2.21 2.40l-2.21 -2.40zM254.1 86.8l2.21 2.40l-2.21 2.40l-2.21 -2.40zM256.1 88.4l2.21 2.40l-2.21 2.40l-2.21 -2.40zM258.1 89.8l2.21 2.40l-2.21 2.40l-2.21 -2.40zM260.1 91.1l2.21 2.40l-2.21 2.40l-2.21 -2.40zM262.1 91.8l2.21 2.40l-2.21 2.40l-2.21 -2.40zM264.1 92.5l2.21 2.40l-2.21 2.40l-2.21 -2.40zM266.6 92.7l2.21 2.40l-2.21 2.40l-2.21 -2.40zM268.8 93.0l2.21 2.40l-2.21 2.40l-2.21 -2.40zM270.0 93.5l2.21 2.40l-2.21 2.40l-2.21 -2.40zM272.3 93.5l2.21 2.40l-2.21 2.40l-2.21 -2.40zM274.7 93.5l2.21 2.40l-2.21 2.40l-2.21 -2.40zM277.0 93.5l2.21 2.40l-2.21 2.40l-2.21 -2.40zM279.4 93.5l2.21 2.40l-2.21 2.40l-2.21 -2.40zM281.7 93.5l2.21 2.40l-2.21 2.40l-2.21 -2.40zM284.3 93.5l2.21 2.40l-2.21 2.40l-2.21 -2.40zM286.9 93.5l2.21 2.40l-2.21 2.40l-2.21 -2.40zM289.2 93.5l2.21 2.40l-2.21 2.40l-2.21 -2.40zM291.8 93.5l2.21 2.40l-2.21 2.40l-2.21 -2.40zM294.6 93.5l2.21 2.40l-2.21 2.40l-2.21 -2.40zM298.5 93.5l2.21 2.40l-2.21 2.40l-2.21 -2.40zM302.2 93.5l2.21 2.40l-2.21 2.40l-2.21 -2.40zM306.2 93.5l2.21 2.40l-2.21 2.40l-2.21 -2.40zM310.2 93.5l2.21 2.40l-2.21 2.40l-2.21 -2.40zM314.2 93.5l2.21 2.40l-2.21 2.40l-2.21 -2.40zM318.5 93.5l2.21 2.40l-2.21 2.40l-2.21 -2.40zM323.7 93.5l2.21 2.40l-2.21 2.40l-2.21 -2.40zM328.6 93.5l2.21 2.40l-2.21 2.40l-2.21 -2.40zM333.9 93.5l2.21 2.40l-2.21 2.40l-2.21 -2.40zM339.4 93.5l2.21 2.40l-2.21 2.40l-2.21 -2.40zM345.0 93.5l2.21 2.40l-2.21 2.40l-2.21 -2.40zM350.9 93.5l2.21 2.40l-2.21 2.40l-2.21 -2.40zM357.2 93.5l2.21 2.40l-2.21 2.40l-2.21 -2.40z" fill="#0570cc"/>
<g stroke="#d9d9d9" stroke-width="0.9" fill="none"><line x1="217.00" y1="116.80" x2="217.00" y2="203.30"/><line x1="215.00" y1="201.30" x2="356.80" y2="201.30"/><line x1="217.00" y1="194.26" x2="219.00" y2="194.26"/><line x1="217.00" y1="187.22" x2="219.00" y2="187.22"/><line x1="217.00" y1="180.18" x2="219.00" y2="180.18"/><line x1="217.00" y1="173.13" x2="219.00" y2="173.13"/><line x1="215.00" y1="166.09" x2="219.00" y2="166.09"/><line x1="217.00" y1="159.05" x2="219.00" y2="159.05"/><line x1="217.00" y1="152.01" x2="219.00" y2="152.01"/><line x1="217.00" y1="144.97" x2="219.00" y2="144.97"/><line x1="217.00" y1="137.92" x2="219.00" y2="137.92"/><line x1="215.00" y1="130.88" x2="219.00" y2="130.88"/><line x1="217.00" y1="123.84" x2="219.00" y2="123.84"/><line x1="217.00" y1="116.80" x2="219.00" y2="116.80"/><line x1="222.59" y1="199.30" x2="222.59" y2="201.30"/><line x1="228.18" y1="199.30" x2="228.18" y2="201.30"/><line x1="233.78" y1="199.30" x2="233.78" y2="201.30"/><line x1="239.37" y1="199.30" x2="239.37" y2="201.30"/><line x1="244.96" y1="199.30" x2="244.96" y2="203.30"/><line x1="250.55" y1="199.30" x2="250.55" y2="201.30"/><line x1="256.14" y1="199.30" x2="256.14" y2="201.30"/><line x1="261.74" y1="199.30" x2="261.74" y2="201.30"/><line x1="267.33" y1="199.30" x2="267.33" y2="201.30"/><line x1="272.92" y1="199.30" x2="272.92" y2="203.30"/><line x1="278.51" y1="199.30" x2="278.51" y2="201.30"/><line x1="284.10" y1="199.30" x2="284.10" y2="201.30"/><line x1="289.70" y1="199.30" x2="289.70" y2="201.30"/><line x1="295.29" y1="199.30" x2="295.29" y2="201.30"/><line x1="300.88" y1="199.30" x2="300.88" y2="203.30"/><line x1="306.47" y1="199.30" x2="306.47" y2="201.30"/><line x1="312.06" y1="199.30" x2="312.06" y2="201.30"/><line x1="317.66" y1="199.30" x2="317.66" y2="201.30"/><line x1="323.25" y1="199.30" x2="323.25" y2="201.30"/><line x1="328.84" y1="199.30" x2="328.84" y2="203.30"/><line x1="334.43" y1="199.30" x2="334.43" y2="201.30"/><line x1="340.02" y1="199.30" x2="340.02" y2="201.30"/><line x1="345.62" y1="199.30" x2="345.62" y2="201.30"/><line x1="351.21" y1="199.30" x2="351.21" y2="201.30"/><line x1="356.80" y1="199.30" x2="356.80" y2="203.30"/></g>
<g fill="#595959" stroke="#595959" stroke-width="0.22"><text x="208.90" y="203.72" text-anchor="end" textLength="17.60" lengthAdjust="spacingAndGlyphs">0.000</text><text x="208.90" y="168.51" text-anchor="end" textLength="17.60" lengthAdjust="spacingAndGlyphs">0.005</text><text x="208.90" y="133.30" text-anchor="end" textLength="17.60" lengthAdjust="spacingAndGlyphs">0.010</text><text x="217.00" y="214.75" text-anchor="middle" textLength="3.90" lengthAdjust="spacingAndGlyphs">0</text><text x="244.96" y="214.75" text-anchor="middle" textLength="7.81" lengthAdjust="spacingAndGlyphs">10</text><text x="272.92" y="214.75" text-anchor="middle" textLength="7.81" lengthAdjust="spacingAndGlyphs">20</text><text x="300.88" y="214.75" text-anchor="middle" textLength="7.81" lengthAdjust="spacingAndGlyphs">30</text><text x="328.84" y="214.75" text-anchor="middle" textLength="7.81" lengthAdjust="spacingAndGlyphs">40</text><text x="356.80" y="214.75" text-anchor="middle" textLength="7.81" lengthAdjust="spacingAndGlyphs">50</text></g>
<polyline points="233.9,201.3 235.6,196.2 236.4,150.5 237.0,120.9 238.3,115.9 239.5,152.3 240.2,159.1 241.1,180.0 242.5,151.0 243.6,170.4 244.9,182.8 246.2,201.1 247.7,191.5 249.1,179.5 250.9,182.4 253.7,179.5 255.6,185.0 257.4,187.2 259.1,189.8 261.0,191.7 263.4,192.5 265.4,194.4 267.7,196.1 270.1,197.5 272.5,198.4 274.8,198.4 277.5,200.2 280.2,201.3 282.8,200.2 285.9,199.4 288.9,199.8 292.6,200.5 296.2,201.0 299.3,200.8 302.9,201.0 307.8,201.0 312.1,200.9 316.6,201.5 321.1,201.3 325.4,200.9 330.3,200.9 335.6,200.9 341.1,200.9 347.0,200.9 353.2,200.9" fill="none" stroke="#3896dc" stroke-width="1.2" stroke-linejoin="round"/>
<path d="M233.9 198.9l2.21 2.40l-2.21 2.40l-2.21 -2.40zM235.6 193.8l2.21 2.40l-2.21 2.40l-2.21 -2.40zM236.4 148.1l2.21 2.40l-2.21 2.40l-2.21 -2.40zM237.0 118.5l2.21 2.40l-2.21 2.40l-2.21 -2.40zM238.3 113.5l2.21 2.40l-2.21 2.40l-2.21 -2.40zM239.5 149.9l2.21 2.40l-2.21 2.40l-2.21 -2.40zM240.2 156.7l2.21 2.40l-2.21 2.40l-2.21 -2.40zM241.1 177.6l2.21 2.40l-2.21 2.40l-2.21 -2.40zM242.5 148.6l2.21 2.40l-2.21 2.40l-2.21 -2.40zM243.6 168.0l2.21 2.40l-2.21 2.40l-2.21 -2.40zM244.9 180.4l2.21 2.40l-2.21 2.40l-2.21 -2.40zM246.2 198.7l2.21 2.40l-2.21 2.40l-2.21 -2.40zM247.7 189.1l2.21 2.40l-2.21 2.40l-2.21 -2.40zM249.1 177.1l2.21 2.40l-2.21 2.40l-2.21 -2.40zM250.9 180.0l2.21 2.40l-2.21 2.40l-2.21 -2.40zM253.7 177.1l2.21 2.40l-2.21 2.40l-2.21 -2.40zM255.6 182.6l2.21 2.40l-2.21 2.40l-2.21 -2.40zM257.4 184.8l2.21 2.40l-2.21 2.40l-2.21 -2.40zM259.1 187.4l2.21 2.40l-2.21 2.40l-2.21 -2.40zM261.0 189.3l2.21 2.40l-2.21 2.40l-2.21 -2.40zM263.4 190.1l2.21 2.40l-2.21 2.40l-2.21 -2.40zM265.4 192.0l2.21 2.40l-2.21 2.40l-2.21 -2.40zM267.7 193.7l2.21 2.40l-2.21 2.40l-2.21 -2.40zM270.1 195.1l2.21 2.40l-2.21 2.40l-2.21 -2.40zM272.5 196.0l2.21 2.40l-2.21 2.40l-2.21 -2.40zM274.8 196.0l2.21 2.40l-2.21 2.40l-2.21 -2.40zM277.5 197.8l2.21 2.40l-2.21 2.40l-2.21 -2.40zM280.2 198.9l2.21 2.40l-2.21 2.40l-2.21 -2.40zM282.8 197.8l2.21 2.40l-2.21 2.40l-2.21 -2.40zM285.9 197.0l2.21 2.40l-2.21 2.40l-2.21 -2.40zM288.9 197.4l2.21 2.40l-2.21 2.40l-2.21 -2.40zM292.6 198.1l2.21 2.40l-2.21 2.40l-2.21 -2.40zM296.2 198.6l2.21 2.40l-2.21 2.40l-2.21 -2.40zM299.3 198.4l2.21 2.40l-2.21 2.40l-2.21 -2.40zM302.9 198.6l2.21 2.40l-2.21 2.40l-2.21 -2.40zM307.8 198.6l2.21 2.40l-2.21 2.40l-2.21 -2.40zM312.1 198.5l2.21 2.40l-2.21 2.40l-2.21 -2.40zM316.6 199.1l2.21 2.40l-2.21 2.40l-2.21 -2.40zM321.1 198.9l2.21 2.40l-2.21 2.40l-2.21 -2.40zM325.4 198.5l2.21 2.40l-2.21 2.40l-2.21 -2.40zM330.3 198.5l2.21 2.40l-2.21 2.40l-2.21 -2.40zM335.6 198.5l2.21 2.40l-2.21 2.40l-2.21 -2.40zM341.1 198.5l2.21 2.40l-2.21 2.40l-2.21 -2.40zM347.0 198.5l2.21 2.40l-2.21 2.40l-2.21 -2.40zM353.2 198.5l2.21 2.40l-2.21 2.40l-2.21 -2.40z" fill="#0570cc"/>
<g stroke="#d9d9d9" stroke-width="0.9" fill="none"><line x1="216.60" y1="328.30" x2="216.60" y2="416.00"/><line x1="214.60" y1="414.00" x2="351.20" y2="414.00"/><line x1="216.60" y1="405.43" x2="218.60" y2="405.43"/><line x1="216.60" y1="396.86" x2="218.60" y2="396.86"/><line x1="216.60" y1="388.29" x2="218.60" y2="388.29"/><line x1="216.60" y1="379.72" x2="218.60" y2="379.72"/><line x1="214.60" y1="371.15" x2="218.60" y2="371.15"/><line x1="216.60" y1="362.58" x2="218.60" y2="362.58"/><line x1="216.60" y1="354.01" x2="218.60" y2="354.01"/><line x1="216.60" y1="345.44" x2="218.60" y2="345.44"/><line x1="216.60" y1="336.87" x2="218.60" y2="336.87"/><line x1="214.60" y1="328.30" x2="218.60" y2="328.30"/><line x1="221.98" y1="412.00" x2="221.98" y2="414.00"/><line x1="227.37" y1="412.00" x2="227.37" y2="414.00"/><line x1="232.75" y1="412.00" x2="232.75" y2="414.00"/><line x1="238.14" y1="412.00" x2="238.14" y2="414.00"/><line x1="243.52" y1="412.00" x2="243.52" y2="416.00"/><line x1="248.90" y1="412.00" x2="248.90" y2="414.00"/><line x1="254.29" y1="412.00" x2="254.29" y2="414.00"/><line x1="259.67" y1="412.00" x2="259.67" y2="414.00"/><line x1="265.06" y1="412.00" x2="265.06" y2="414.00"/><line x1="270.44" y1="412.00" x2="270.44" y2="416.00"/><line x1="275.82" y1="412.00" x2="275.82" y2="414.00"/><line x1="281.21" y1="412.00" x2="281.21" y2="414.00"/><line x1="286.59" y1="412.00" x2="286.59" y2="414.00"/><line x1="291.98" y1="412.00" x2="291.98" y2="414.00"/><line x1="297.36" y1="412.00" x2="297.36" y2="416.00"/><line x1="302.74" y1="412.00" x2="302.74" y2="414.00"/><line x1="308.13" y1="412.00" x2="308.13" y2="414.00"/><line x1="313.51" y1="412.00" x2="313.51" y2="414.00"/><line x1="318.90" y1="412.00" x2="318.90" y2="414.00"/><line x1="324.28" y1="412.00" x2="324.28" y2="416.00"/><line x1="329.66" y1="412.00" x2="329.66" y2="414.00"/><line x1="335.05" y1="412.00" x2="335.05" y2="414.00"/><line x1="340.43" y1="412.00" x2="340.43" y2="414.00"/><line x1="345.82" y1="412.00" x2="345.82" y2="414.00"/><line x1="351.20" y1="412.00" x2="351.20" y2="416.00"/></g>
<g fill="#595959" stroke="#595959" stroke-width="0.22"><text x="208.90" y="416.42" text-anchor="end" textLength="17.60" lengthAdjust="spacingAndGlyphs">0.000</text><text x="208.90" y="373.57" text-anchor="end" textLength="17.60" lengthAdjust="spacingAndGlyphs">0.005</text><text x="208.90" y="330.72" text-anchor="end" textLength="17.60" lengthAdjust="spacingAndGlyphs">0.010</text><text x="216.60" y="427.45" text-anchor="middle" textLength="3.90" lengthAdjust="spacingAndGlyphs">0</text><text x="243.52" y="427.45" text-anchor="middle" textLength="7.81" lengthAdjust="spacingAndGlyphs">10</text><text x="270.44" y="427.45" text-anchor="middle" textLength="7.81" lengthAdjust="spacingAndGlyphs">20</text><text x="297.36" y="427.45" text-anchor="middle" textLength="7.81" lengthAdjust="spacingAndGlyphs">30</text><text x="324.28" y="427.45" text-anchor="middle" textLength="7.81" lengthAdjust="spacingAndGlyphs">40</text><text x="351.20" y="427.45" text-anchor="middle" textLength="7.81" lengthAdjust="spacingAndGlyphs">50</text></g>
<polyline points="232.3,414.0 233.8,342.7 234.2,332.4 234.8,406.6 235.6,399.8 236.8,414.0 237.2,414.0 238.6,414.0 240.0,414.0 241.5,414.0 242.9,414.0 244.3,414.0 245.7,414.0 247.2,414.0 248.6,414.0 250.0,414.0 250.9,395.1 252.4,365.6 254.6,368.0 256.1,368.6 257.5,380.4 259.5,381.5 262.0,377.4 263.4,387.7 265.6,386.7 267.9,389.2 270.4,396.6 273.0,392.2 275.2,401.9 278.2,399.0 281.1,400.7 284.1,405.2 287.0,404.0 290.5,404.0 293.5,404.1 297.3,407.2 301.3,407.2 305.3,408.7 309.2,408.1 313.5,406.3 317.9,406.3 322.2,406.3 326.9,407.2 331.8,408.5 337.4,408.8 343.2,408.8 349.3,409.8" fill="none" stroke="#3896dc" stroke-width="1.2" stroke-linejoin="round"/>
<path d="M232.3 411.6l2.21 2.40l-2.21 2.40l-2.21 -2.40zM233.8 340.3l2.21 2.40l-2.21 2.40l-2.21 -2.40zM234.2 330.0l2.21 2.40l-2.21 2.40l-2.21 -2.40zM234.8 404.2l2.21 2.40l-2.21 2.40l-2.21 -2.40zM235.6 397.4l2.21 2.40l-2.21 2.40l-2.21 -2.40zM236.8 411.6l2.21 2.40l-2.21 2.40l-2.21 -2.40zM237.2 411.6l2.21 2.40l-2.21 2.40l-2.21 -2.40zM238.6 411.6l2.21 2.40l-2.21 2.40l-2.21 -2.40zM240.0 411.6l2.21 2.40l-2.21 2.40l-2.21 -2.40zM241.5 411.6l2.21 2.40l-2.21 2.40l-2.21 -2.40zM242.9 411.6l2.21 2.40l-2.21 2.40l-2.21 -2.40zM244.3 411.6l2.21 2.40l-2.21 2.40l-2.21 -2.40zM245.7 411.6l2.21 2.40l-2.21 2.40l-2.21 -2.40zM247.2 411.6l2.21 2.40l-2.21 2.40l-2.21 -2.40zM248.6 411.6l2.21 2.40l-2.21 2.40l-2.21 -2.40zM250.0 411.6l2.21 2.40l-2.21 2.40l-2.21 -2.40zM250.9 392.7l2.21 2.40l-2.21 2.40l-2.21 -2.40zM252.4 363.2l2.21 2.40l-2.21 2.40l-2.21 -2.40zM254.6 365.6l2.21 2.40l-2.21 2.40l-2.21 -2.40zM256.1 366.2l2.21 2.40l-2.21 2.40l-2.21 -2.40zM257.5 378.0l2.21 2.40l-2.21 2.40l-2.21 -2.40zM259.5 379.1l2.21 2.40l-2.21 2.40l-2.21 -2.40zM262.0 375.0l2.21 2.40l-2.21 2.40l-2.21 -2.40zM263.4 385.3l2.21 2.40l-2.21 2.40l-2.21 -2.40zM265.6 384.3l2.21 2.40l-2.21 2.40l-2.21 -2.40zM267.9 386.8l2.21 2.40l-2.21 2.40l-2.21 -2.40zM270.4 394.2l2.21 2.40l-2.21 2.40l-2.21 -2.40zM273.0 389.8l2.21 2.40l-2.21 2.40l-2.21 -2.40zM275.2 399.5l2.21 2.40l-2.21 2.40l-2.21 -2.40zM278.2 396.6l2.21 2.40l-2.21 2.40l-2.21 -2.40zM281.1 398.3l2.21 2.40l-2.21 2.40l-2.21 -2.40zM284.1 402.8l2.21 2.40l-2.21 2.40l-2.21 -2.40zM287.0 401.6l2.21 2.40l-2.21 2.40l-2.21 -2.40zM290.5 401.6l2.21 2.40l-2.21 2.40l-2.21 -2.40zM293.5 401.7l2.21 2.40l-2.21 2.40l-2.21 -2.40zM297.3 404.8l2.21 2.40l-2.21 2.40l-2.21 -2.40zM301.3 404.8l2.21 2.40l-2.21 2.40l-2.21 -2.40zM305.3 406.3l2.21 2.40l-2.21 2.40l-2.21 -2.40zM309.2 405.7l2.21 2.40l-2.21 2.40l-2.21 -2.40zM313.5 403.9l2.21 2.40l-2.21 2.40l-2.21 -2.40zM317.9 403.9l2.21 2.40l-2.21 2.40l-2.21 -2.40zM322.2 403.9l2.21 2.40l-2.21 2.40l-2.21 -2.40zM326.9 404.8l2.21 2.40l-2.21 2.40l-2.21 -2.40zM331.8 406.1l2.21 2.40l-2.21 2.40l-2.21 -2.40zM337.4 406.4l2.21 2.40l-2.21 2.40l-2.21 -2.40zM343.2 406.4l2.21 2.40l-2.21 2.40l-2.21 -2.40zM349.3 407.4l2.21 2.40l-2.21 2.40l-2.21 -2.40z" fill="#0570cc"/>
<g fill="#4d4d4d" stroke="#4d4d4d"><text stroke-width="0.15" x="104.48" y="543.10" font-family="Liberation Serif" font-size="10.00" font-weight="bold" font-style="italic" textLength="3.22" lengthAdjust="spacingAndGlyphs">r</text><text stroke-width="0.10" x="109.65" y="545.00" font-family="Liberation Serif" font-size="7.60" font-weight="bold" font-style="italic" textLength="3.51" lengthAdjust="spacingAndGlyphs">p</text><text stroke-width="0.10" x="121.75" y="543.10" font-family="Liberation Sans" font-size="9.30" font-weight="bold" textLength="5.70" lengthAdjust="spacingAndGlyphs">Å</text></g>
<path d="M116.10 544.10L118.90 537.40" stroke="#4d4d4d" stroke-width="1.15"/>
<g fill="#4d4d4d" stroke="#4d4d4d"><text stroke-width="0.15" x="286.28" y="223.80" font-family="Liberation Serif" font-size="10.00" font-weight="bold" font-style="italic" textLength="3.22" lengthAdjust="spacingAndGlyphs">r</text><text stroke-width="0.10" x="291.45" y="225.70" font-family="Liberation Serif" font-size="7.60" font-weight="bold" font-style="italic" textLength="3.51" lengthAdjust="spacingAndGlyphs">p</text><text stroke-width="0.10" x="303.55" y="223.80" font-family="Liberation Sans" font-size="9.30" font-weight="bold" textLength="5.70" lengthAdjust="spacingAndGlyphs">Å</text></g>
<path d="M297.90 224.80L300.70 218.10" stroke="#4d4d4d" stroke-width="1.15"/>
<g fill="#4d4d4d" stroke="#4d4d4d"><text stroke-width="0.15" x="285.68" y="436.70" font-family="Liberation Serif" font-size="10.00" font-weight="bold" font-style="italic" textLength="3.22" lengthAdjust="spacingAndGlyphs">r</text><text stroke-width="0.10" x="290.85" y="438.60" font-family="Liberation Serif" font-size="7.60" font-weight="bold" font-style="italic" textLength="3.51" lengthAdjust="spacingAndGlyphs">p</text><text stroke-width="0.10" x="302.95" y="436.70" font-family="Liberation Sans" font-size="9.30" font-weight="bold" textLength="5.70" lengthAdjust="spacingAndGlyphs">Å</text></g>
<path d="M297.30 437.70L300.10 431.00" stroke="#4d4d4d" stroke-width="1.15"/>
</svg>
</body></html>
